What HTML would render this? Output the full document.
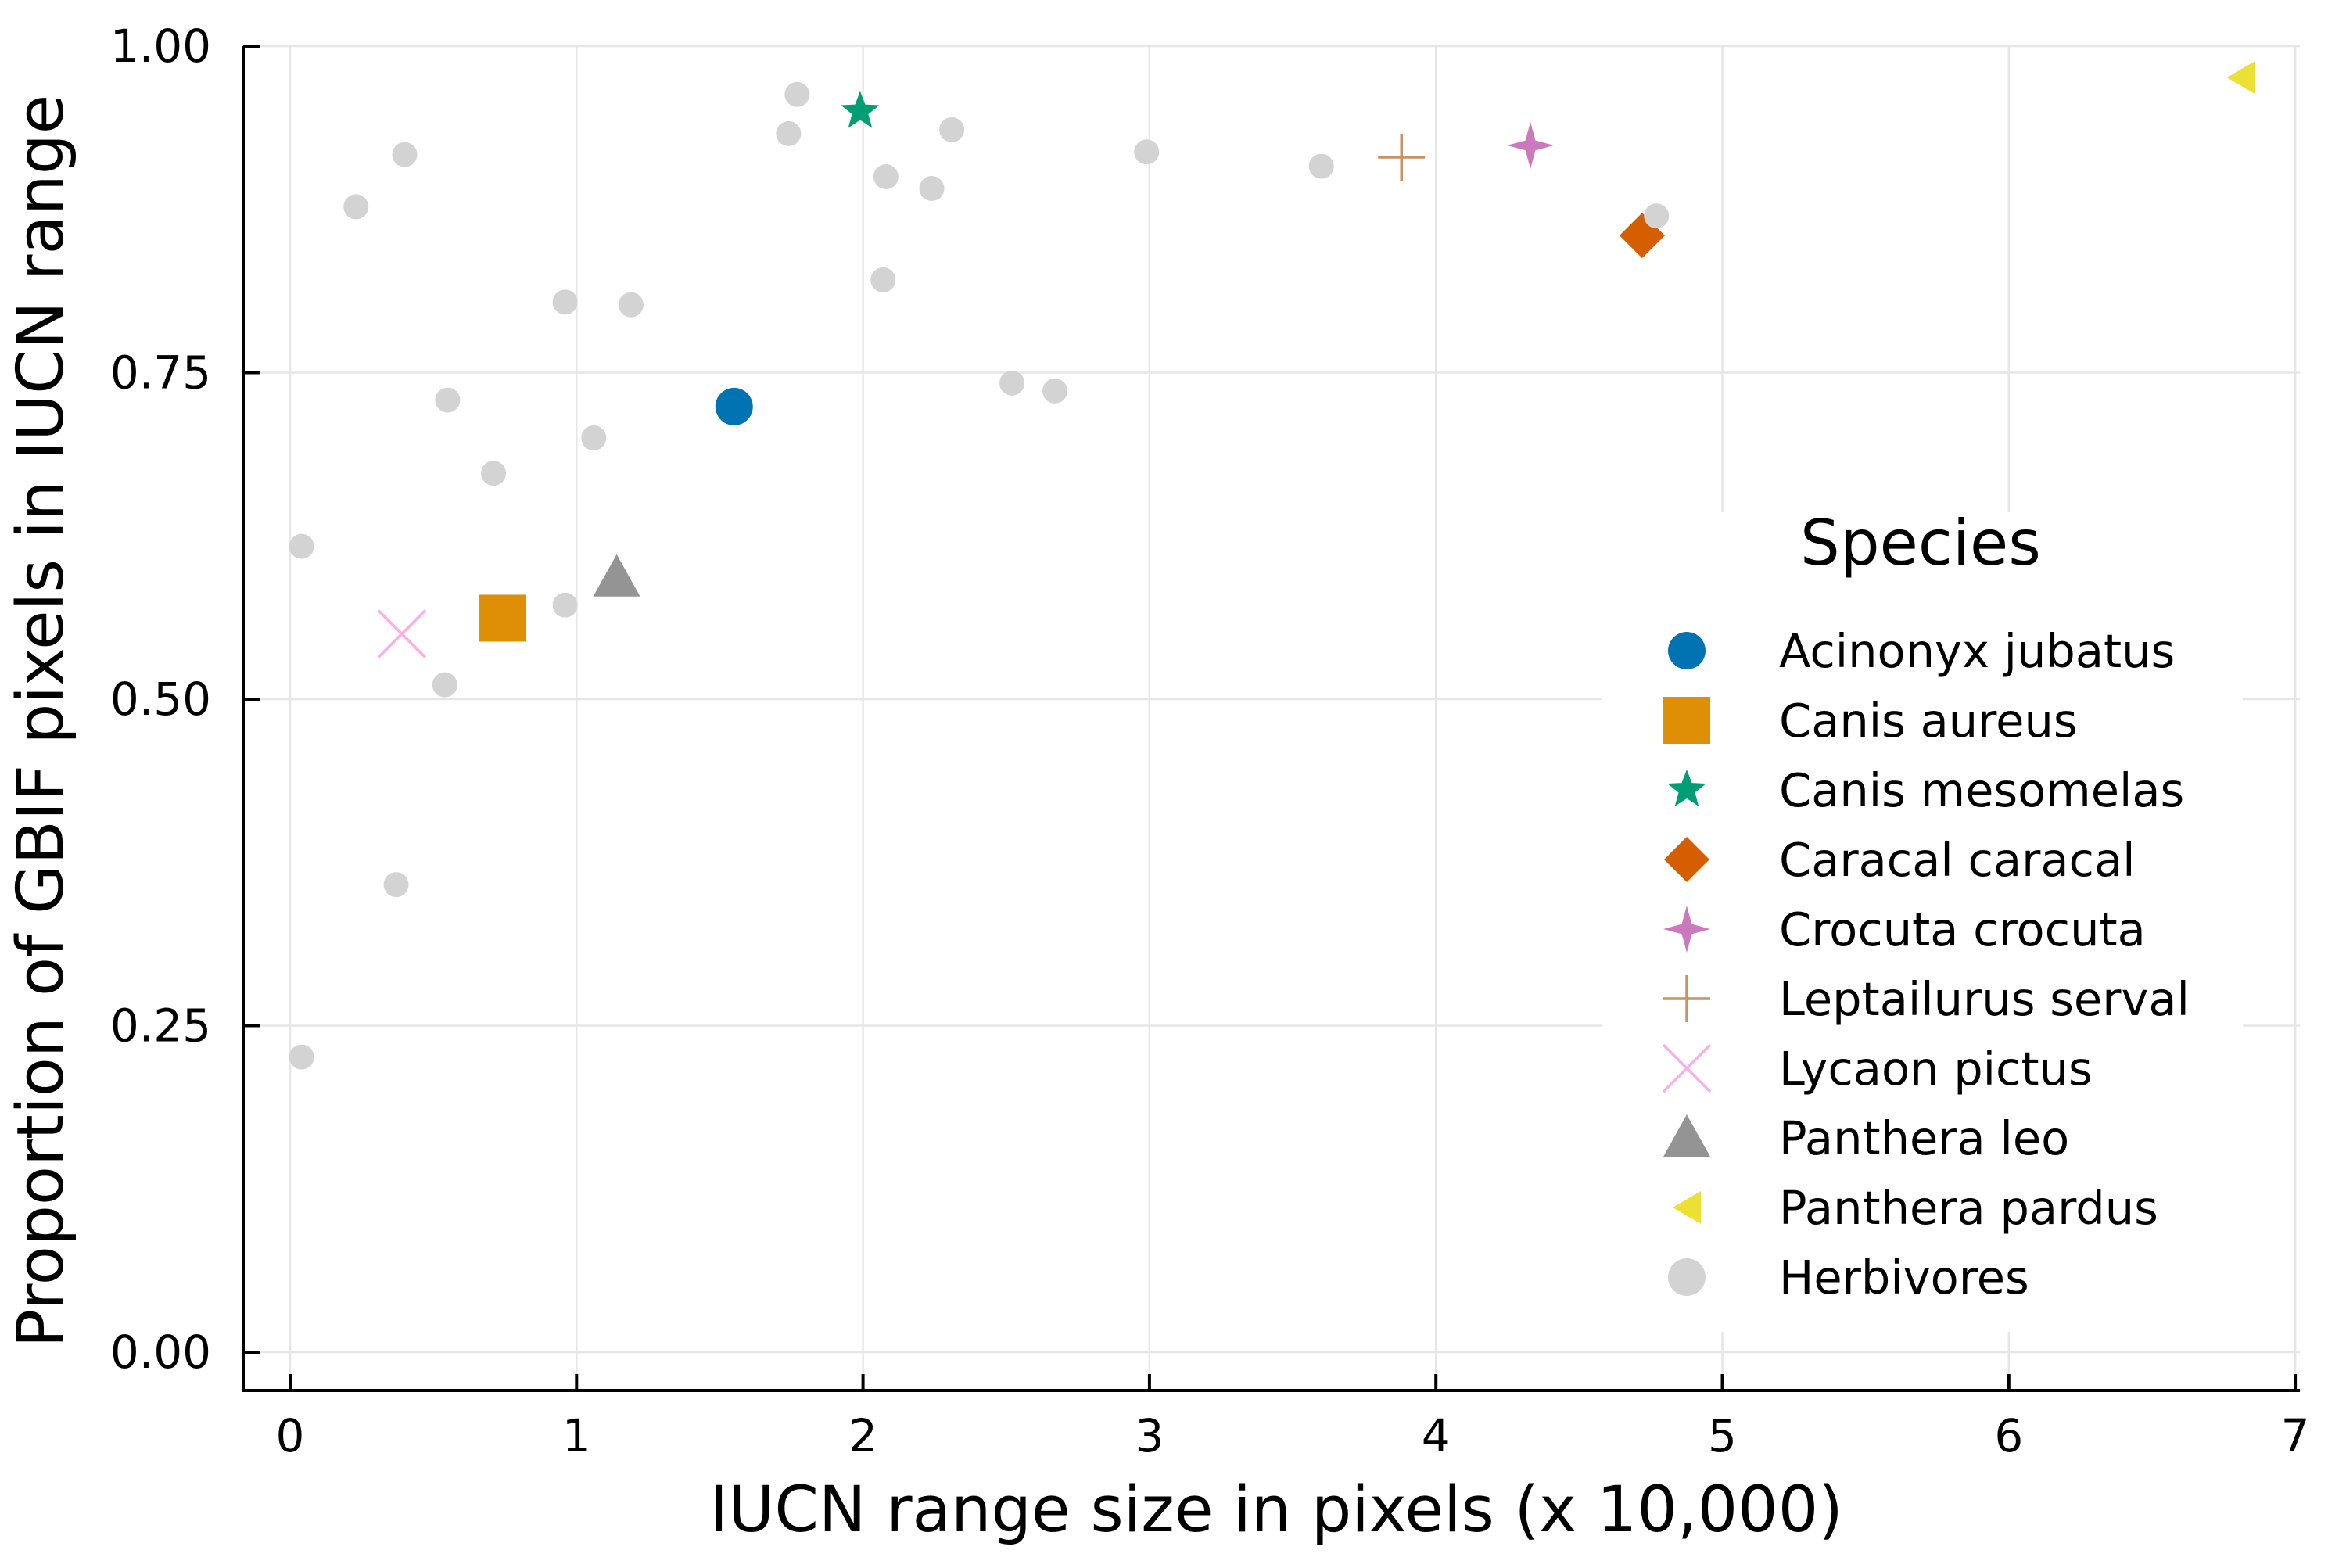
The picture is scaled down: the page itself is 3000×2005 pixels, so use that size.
<!DOCTYPE html>
<html><head><meta charset="utf-8"><style>
body{margin:0;background:#fff}
text{font-family:"DejaVu Sans","Liberation Sans",sans-serif}
</style></head><body>
<svg id="chart" width="3000" height="2000" xmlns="http://www.w3.org/2000/svg">
<rect width="3000" height="2000" fill="#fff"/>
<g id="grid"></g>
<g id="axes"></g>
<g id="marks"></g>
<g id="legend"></g>
<text x="1632" y="1958" font-size="81" text-anchor="middle">IUCN range size in pixels (x 10,000)</text>
<text transform="translate(80,922) rotate(-90)" font-size="82" text-anchor="middle">Proportion of GBIF pixels in IUCN range</text>
</svg>
<script>
const xTicks=[0,1,2,3,4,5,6,7];
const yTicks=[0,0.25,0.5,0.75,1.0];
const yTickLabels=["0.00","0.25","0.50","0.75","1.00"];
const herbX=[0.04,0.04,0.23,0.40,0.37,0.54,0.55,0.71,0.96,0.96,1.06,1.19,1.74,1.77,2.07,2.08,2.24,2.31,2.52,2.67,2.99,3.60,4.77];
const herbY=[0.617,0.226,0.877,0.917,0.358,0.511,0.729,0.673,0.804,0.572,0.700,0.802,0.933,0.963,0.821,0.900,0.891,0.936,0.742,0.736,0.919,0.908,0.870];
const species=["Acinonyx jubatus","Canis aureus","Canis mesomelas","Caracal caracal","Crocuta crocuta","Leptailurus serval","Lycaon pictus","Panthera leo","Panthera pardus"];
const speciesX=[1.55,0.74,1.99,4.72,4.33,3.88,0.39,1.14,6.81];
const speciesY=[0.724,0.562,0.950,0.855,0.924,0.915,0.550,0.593,0.976];
const colors=["#0173b2","#de8f05","#029e73","#d55e00","#cc78bc","#ca9161","#fbafe4","#949494","#ece133"];
const shapes=["circle","square","star5","diamond","star4","plus","x","triangle","ltriangle"];
const NS="http://www.w3.org/2000/svg";
const X0=371,XU=366.3,Y0=1729,YU=1670;
const sx=v=>X0+v*XU, sy=v=>Y0-v*YU;
function mk(tag,attrs,parent){const e=document.createElementNS(NS,tag);for(const k in attrs)e.setAttribute(k,attrs[k]);parent.appendChild(e);return e;}
const grid=document.getElementById('grid'),axes=document.getElementById('axes'),marks=document.getElementById('marks'),legend=document.getElementById('legend');
xTicks.forEach(t=>{
 const l=mk('line',{x1:sx(t),x2:sx(t),y1:sy(1)-2,y2:1778,stroke:'#e6e6e6','stroke-width':2.5},grid);
 
 
 const tk=mk('line',{x1:sx(t),x2:sx(t),y1:1778,y2:1757,stroke:'#000','stroke-width':4},axes);
 
 
 const tx=mk('text',{x:sx(t),y:1856,'font-size':58,'text-anchor':'middle'},axes);tx.textContent=t;
 
 
});
yTicks.forEach((t,i)=>{
 const l=mk('line',{x1:311,x2:2941,y1:sy(t),y2:sy(t),stroke:'#e6e6e6','stroke-width':2.5},grid);
 
 
 const tk=mk('line',{x1:311,x2:333,y1:sy(t),y2:sy(t),stroke:'#000','stroke-width':4},axes);
 
 
 const tx=mk('text',{x:270,y:sy(t)+20,'font-size':58,'text-anchor':'end'},axes);tx.textContent=yTickLabels[i];
 
 
});
const ax=mk('path',{d:'M311 '+sy(1)+' V1778 H2941',fill:'none',stroke:'#000','stroke-width':4},axes);


function star(cx,cy,n,ro,ri){let p=[];for(let i=0;i<2*n;i++){const a=-Math.PI/2+i*Math.PI/n,r=i%2?ri:ro;p.push((cx+r*Math.cos(a)).toFixed(1)+','+(cy+r*Math.sin(a)).toFixed(1));}return p.join(' ');}
function marker(shape,cx,cy,c,parent){
 switch(shape){
 case 'circle':return mk('circle',{cx,cy,r:24,fill:c},parent);
 case 'square':return mk('rect',{x:cx-30,y:cy-30,width:60,height:60,fill:c},parent);
 case 'star5':return mk('polygon',{points:star(cx,cy,5,26,11),fill:c},parent);
 case 'diamond':return mk('polygon',{points:`${cx},${cy-29} ${cx+29},${cy} ${cx},${cy+29} ${cx-29},${cy}`,fill:c},parent);
 case 'star4':return mk('polygon',{points:star(cx,cy,4,30,9),fill:c},parent);
 case 'plus':return mk('path',{d:`M${cx-30} ${cy}H${cx+30}M${cx} ${cy-30}V${cy+30}`,stroke:c,'stroke-width':3.5,fill:'none'},parent);
 case 'x':return mk('path',{d:`M${cx-30} ${cy-30}L${cx+30} ${cy+30}M${cx+30} ${cy-30}L${cx-30} ${cy+30}`,stroke:c,'stroke-width':3.5,fill:'none'},parent);
 case 'triangle':return mk('polygon',{points:`${cx},${cy-30} ${cx+30},${cy+24} ${cx-30},${cy+24}`,fill:c},parent);
 case 'ltriangle':return mk('polygon',{points:`${cx-18},${cy} ${cx+18},${cy-21} ${cx+18},${cy+21}`,fill:c},parent);
 case 'herb':return mk('circle',{cx,cy,r:16,fill:'#d3d3d3'},parent);
 }
}
species.forEach((n,i)=>{
 const m=marker(shapes[i],sx(speciesX[i]),sy(speciesY[i]),colors[i],marks);
 
 
});
herbX.forEach((v,i)=>{
 const m=marker('herb',sx(v),sy(herbY[i]),'#d3d3d3',marks);
 
 
});
const bg=mk('rect',{x:2048,y:655,width:820,height:1048,fill:'#fff'},legend);


const lt=mk('text',{x:2456,y:722,'font-size':80,'text-anchor':'middle'},legend);lt.textContent='Species';


const labels=species.concat(['Herbivores']);
labels.forEach((n,i)=>{
 const y=832+i*89.0;
 const g=mk('g',{},legend);
 
 
 if(i<species.length) marker(shapes[i],2157,y,colors[i],g);
 else mk('circle',{cx:2157,cy:y,r:24,fill:'#d3d3d3'},g);
 const t=mk('text',{x:2275,y:y+21,'font-size':59},g);t.textContent=n;
});
</script>
</body></html>
